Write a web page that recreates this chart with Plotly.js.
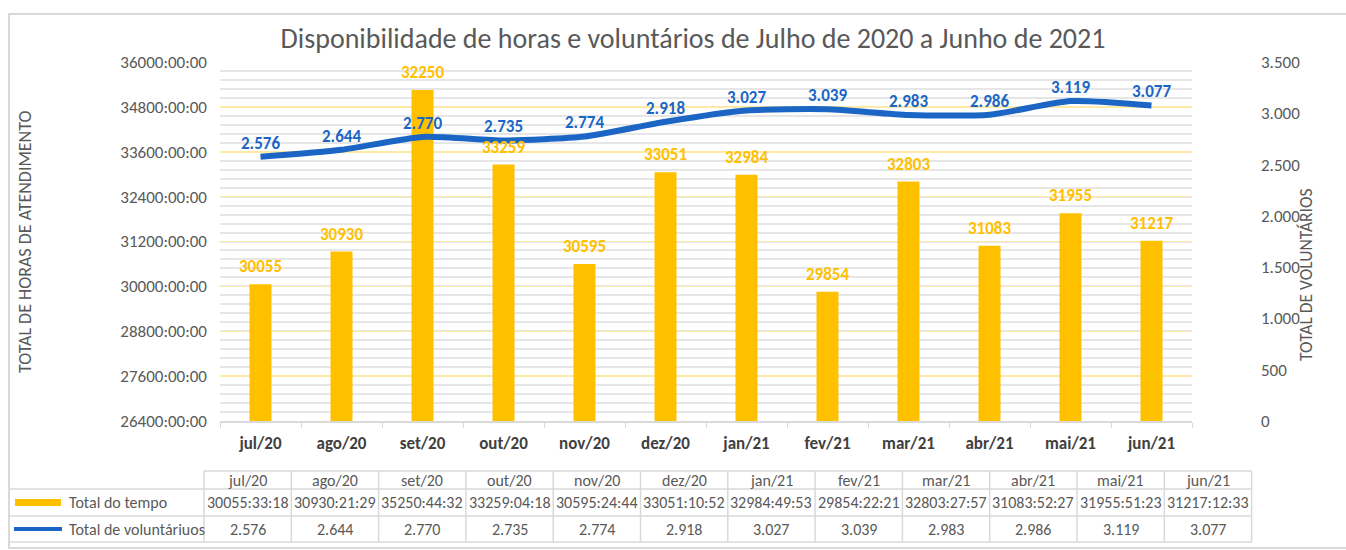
<!DOCTYPE html>
<html>
<head>
<meta charset="utf-8">
<script src="https://cdn.plot.ly/plotly-3.0.1.min.js"></script>
<style>html,body{margin:0;padding:0;background:#fff;}#chart{width:1346px;height:550px;}</style>
</head>
<body>
<div id="chart"></div>
<script>
// ---- data ----
const months = ["jul/20","ago/20","set/20","out/20","nov/20","dez/20","jan/21","fev/21","mar/21","abr/21","mai/21","jun/21"];
const tempoTotal = ["30055:33:18","30930:21:29","35250:44:32","33259:04:18","30595:24:44","33051:10:52","32984:49:53","29854:22:21","32803:27:57","31083:52:27","31955:51:23","31217:12:33"];
const barLabels = ["30055","30930","32250","33259","30595","33051","32984","29854","32803","31083","31955","31217"];
const voluntarios = [2576,2644,2770,2735,2774,2918,3027,3039,2983,2986,3119,3077];
const leftTicks = [26400,27600,28800,30000,31200,32400,33600,34800,36000];
const leftTickText = ["26400:00:00","27600:00:00","28800:00:00","30000:00:00","31200:00:00","32400:00:00","33600:00:00","34800:00:00","36000:00:00"];
const rightTicks = [0,500,1000,1500,2000,2500,3000,3500];
const rightTickText = ["0","500","1.000","1.500","2.000","2.500","3.000","3.500"];

// ---- helpers ----
function toHours(s){ const p = s.split(":").map(Number); return p[0] + p[1]/60 + p[2]/3600; }
function fmtPt(v){ const s = String(v); return s.length > 3 ? s.slice(0, s.length-3) + "." + s.slice(-3) : s; }
const hours = tempoTotal.map(toHours);

const W = 1346, H = 550;
const M = {l:220, r:154, t:62, b:129};
const PW = W - M.l - M.r, PH = H - M.t - M.b;
const px = x => (x - M.l) / PW;
const py = y => (H - M.b - y) / PH;

const GRAY = "#595959";
const FONT = "Carlito, Calibri, Lato, 'Open Sans', sans-serif";
const ORANGE = "#FFC000", BLUE = "#1B66C4";

const traces = [
  {type:"bar", x:months, y:hours, marker:{color:ORANGE}, name:"Total do tempo", hoverinfo:"skip"},
  {type:"scatter", mode:"lines", x:months, y:voluntarios, yaxis:"y2",
   line:{color:BLUE, width:6, shape:"spline", smoothing:0.6}, name:"Total de voluntáriuos", hoverinfo:"skip"}
];

function ann(o){ return Object.assign({showarrow:false, xanchor:"center", yanchor:"middle"}, o); }

const annotations = [];
months.forEach((m,i)=>{
  annotations.push(ann({x:m, y:hours[i], xref:"x", yref:"y", text:barLabels[i],
    yanchor:"bottom", yshift:5, font:{family:FONT, size:17, color:ORANGE, weight:"bold"}}));
  annotations.push(ann({x:m, y:voluntarios[i], xref:"x", yref:"y2", text:fmtPt(voluntarios[i]),
    yanchor:"bottom", yshift:1, font:{family:FONT, size:17, color:BLUE, weight:"bold"}}));
});
// axis titles
annotations.push(ann({xref:"paper", yref:"paper", x:px(25), y:py(242), text:"TOTAL DE HORAS DE ATENDIMENTO", textangle:-90,
  font:{family:FONT, size:18, color:GRAY}}));
annotations.push(ann({xref:"paper", yref:"paper", x:px(1306), y:py(275), text:"TOTAL DE VOLUNTÁRIOS", textangle:-90,
  font:{family:FONT, size:17.5, color:GRAY}}));

// table
const shapes = [];
const TL = 204, CW = 87.3, TX0 = 9;
const rowY = [471, 489, 516, 542];
const TR = TL + CW*months.length;
const lineSt = {color:"#D9D9D9", width:1.5};
function hline(x0,x1,y){ shapes.push({type:"line", xref:"paper", yref:"paper", x0:px(x0), x1:px(x1), y0:py(y), y1:py(y), line:lineSt}); }
function vline(x,y0,y1){ shapes.push({type:"line", xref:"paper", yref:"paper", x0:px(x), x1:px(x), y0:py(y0), y1:py(y1), line:lineSt}); }
hline(TL, TR, rowY[0]);
hline(TX0, TR, rowY[1]);
hline(TX0, TR, rowY[2]);
hline(TX0, TR, rowY[3]);
for(let i=0;i<=months.length;i++) vline(TL + CW*i, rowY[0], rowY[3]);
vline(TX0, rowY[1], rowY[3]);
// outer frame
shapes.push({type:"rect", xref:"paper", yref:"paper", x0:px(9), x1:px(1360), y0:py(14), y1:py(548), line:{color:"#D9D9D9", width:2}, layer:"below"});
// legend keys
shapes.push({type:"rect", xref:"paper", yref:"paper", x0:px(15), x1:px(61), y0:py(499), y1:py(506), fillcolor:ORANGE, line:{width:0}});
shapes.push({type:"line", xref:"paper", yref:"paper", x0:px(14), x1:px(62), y0:py(529), y1:py(529), line:{color:BLUE, width:4}});

months.forEach((m,i)=>{
  const cx = TL + CW*(i+0.5);
  annotations.push(ann({xref:"paper", yref:"paper", x:px(cx), y:py((rowY[0]+rowY[1])/2), text:m,
    font:{family:FONT, size:16, color:GRAY}}));
  annotations.push(ann({xref:"paper", yref:"paper", x:px(cx), y:py((rowY[1]+rowY[2])/2), text:tempoTotal[i],
    font:{family:FONT, size:16, color:GRAY}}));
  annotations.push(ann({xref:"paper", yref:"paper", x:px(cx), y:py((rowY[2]+rowY[3])/2), text:fmtPt(voluntarios[i]),
    font:{family:FONT, size:16, color:GRAY}}));
});
annotations.push(ann({xref:"paper", yref:"paper", x:px(67), y:py((rowY[1]+rowY[2])/2), xanchor:"left", text:"Total do tempo",
  font:{family:FONT, size:16, color:GRAY}}));
annotations.push(ann({xref:"paper", yref:"paper", x:px(67), y:py((rowY[2]+rowY[3])/2), xanchor:"left", text:"Total de voluntáriuos",
  font:{family:FONT, size:16, color:GRAY}}));

const layout = {
  width:W, height:H, margin:M, paper_bgcolor:"#fff", plot_bgcolor:"#fff", showlegend:false,
  font:{family:FONT, color:GRAY},
  title:{text:"Disponibilidade de horas e voluntários de Julho de 2020 a Junho de 2021", xref:"container", yref:"container",
    x:693/W, xanchor:"center", y:1-38/H, yanchor:"middle", font:{family:FONT, size:28, color:GRAY}},
  bargap: 1 - 22/81,
  xaxis:{type:"category", showgrid:false, showline:true, linecolor:"#D9D9D9", linewidth:1.5, ticks:"outside", tickson:"boundaries",
    ticklen:5, tickcolor:"#D9D9D9", tickfont:{family:FONT, size:17, color:"#404040", weight:"bold"}, ticklabelstandoff:6, zeroline:false},
  yaxis:{range:[26400,36000], tickvals:leftTicks, ticktext:leftTickText, showgrid:true, gridcolor:"#FFE9A6", gridwidth:1.5,
    tickfont:{family:FONT, size:17, color:GRAY}, ticklabelstandoff:12, zeroline:false, showline:false,
    minor:{dtick:240, tick0:26400, showgrid:true, gridcolor:"#E6E6E6", gridwidth:2}},
  yaxis2:{range:[0,3500], overlaying:"y", side:"right", tickvals:rightTicks, ticktext:rightTickText, showgrid:false,
    tickfont:{family:FONT, size:17, color:GRAY}, ticklabelstandoff:68, zeroline:false, showline:false},
  annotations:annotations, shapes:shapes
};
Plotly.newPlot("chart", traces, layout, {displayModeBar:false, staticPlot:true});
</script>
</body>
</html>
